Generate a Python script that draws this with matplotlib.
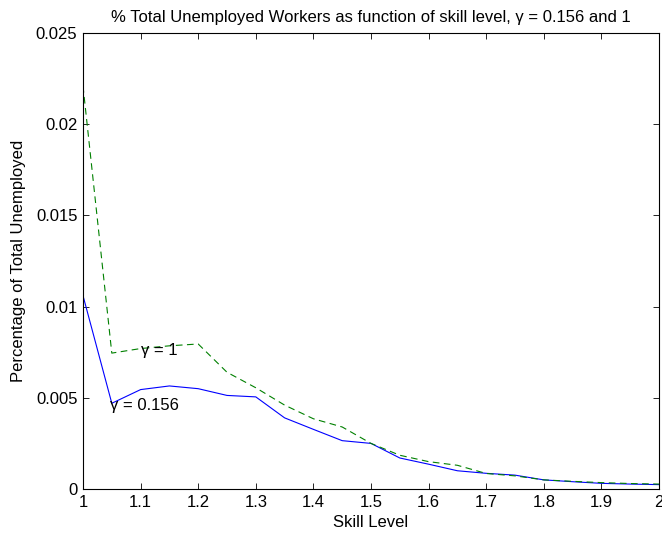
import matplotlib
matplotlib.use("Agg")
import matplotlib.pyplot as plt
import numpy as np

plt.rcParams['font.family'] = ['Liberation Sans', 'DejaVu Sans']

skill = [1.00, 1.05, 1.10, 1.15, 1.20, 1.25, 1.30, 1.35, 1.40, 1.45, 1.50,
         1.55, 1.60, 1.65, 1.70, 1.75, 1.80, 1.85, 1.90, 1.95, 2.00]
gamma_0156 = [0.0106, 0.0047, 0.00545, 0.00565, 0.0055, 0.00513, 0.00505, 0.0039,
              0.00327, 0.00265, 0.0025, 0.0017, 0.00136, 0.0010, 0.00086, 0.00076,
              0.0005, 0.0004, 0.00031, 0.00027, 0.00024]
gamma_1 = [0.0221, 0.00745, 0.0077, 0.00785, 0.00795, 0.0064, 0.00555, 0.0046,
           0.00385, 0.0034, 0.0025, 0.00185, 0.0015, 0.0013, 0.00085, 0.00072,
           0.0005, 0.00042, 0.00035, 0.0003, 0.00027]
xticks = [1, 1.1, 1.2, 1.3, 1.4, 1.5, 1.6, 1.7, 1.8, 1.9, 2]
xticklabels = ['1', '1.1', '1.2', '1.3', '1.4', '1.5', '1.6', '1.7', '1.8', '1.9', '2']
yticks = [0, 0.005, 0.01, 0.015, 0.02, 0.025]
yticklabels = ['0', '0.005', '0.01', '0.015', '0.02', '0.025']

fs = 12
fig = plt.figure(figsize=(6.62, 5.35), dpi=100)
ax = fig.add_axes([83/662, 46/535, 576/662, 456/535])

ax.plot(skill, gamma_0156, color='#0000FF', lw=0.8, ls='-')
ax.plot(skill, gamma_1, color='#008000', lw=0.8, ls=(0, (6, 4)))

ax.text(1.1, 0.0076, 'γ = 1', fontsize=fs, va='center', ha='left')
ax.text(1.047, 0.0046, 'γ = 0.156', fontsize=fs, va='center', ha='left')

ax.set_xlim(1, 2)
ax.set_ylim(0, 0.025)
ax.set_xticks(xticks)
ax.set_xticklabels(xticklabels, fontsize=fs)
ax.set_yticks(yticks)
ax.set_yticklabels(yticklabels, fontsize=fs)
ax.tick_params(direction='in', top=True, right=True, length=4, width=0.6, pad=4)
for s in ax.spines.values():
    s.set_linewidth(0.8)

ax.set_xlabel('Skill Level', fontsize=fs, labelpad=4)
ax.set_ylabel('Percentage of Total Unemployed', fontsize=fs, labelpad=7)
ax.set_title('% Total Unemployed Workers as function of skill level, γ = 0.156 and 1',
             fontsize=fs, pad=8)

fig.savefig('out.png', dpi=100)
